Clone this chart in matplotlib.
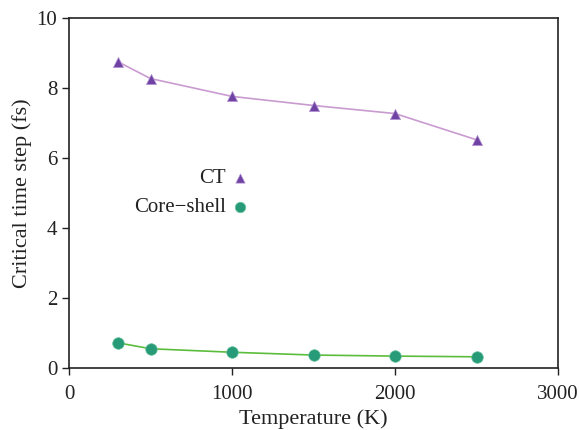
import matplotlib
matplotlib.use('Agg')
import matplotlib.pyplot as plt

# Datos
temperature = [300, 500, 1000, 1500, 2000, 2500]
ct_step = [8.75, 8.27, 7.76, 7.5, 7.27, 6.52]
cs_step = [0.72, 0.55, 0.45, 0.37, 0.34, 0.32]

plt.rcParams['font.family'] = ['Liberation Serif', 'DejaVu Serif']

fig = plt.figure(figsize=(5.79, 4.30), dpi=100)
ax = fig.add_axes([69/579, 1 - 368/430, (558-69)/579, (368-18)/430])

ax.plot(temperature, ct_step, color='#c99bd0', lw=1.2, zorder=2)
ax.plot(temperature, cs_step, color='#5cbd3c', lw=1.2, zorder=2)
ax.scatter(temperature, ct_step, marker='^', s=55, color='#6f42a3',
           edgecolors='#b79ad6', linewidths=0.5, zorder=3, label='CT')
ax.scatter(temperature, cs_step, marker='o', s=70, color='#279a77',
           edgecolors='#6cc49f', linewidths=0.5, zorder=3, label='Core\u2212shell')

ax.set_xlim(0, 3000)
ax.set_ylim(0, 10)
ax.set_xticks([0, 1000, 2000, 3000])
ax.set_yticks([0, 2, 4, 6, 8, 10])
ax.tick_params(direction='out', length=5, width=1, labelsize=15, colors='#222222',
               top=False, right=False)
ax.tick_params(axis='x', pad=7)
for s in ax.spines.values():
    s.set_linewidth(1.2)
    s.set_color('#222222')

ax.set_xlabel('Temperature (K)', fontsize=16, color='#222222', labelpad=4)
ax.set_ylabel('Critical time step (fs)', fontsize=16, color='#222222', labelpad=3)

leg = ax.legend(loc='center', bbox_to_anchor=(0.25, 0.50), markerfirst=False,
                frameon=False, fontsize=15, handletextpad=0.3, labelspacing=0.45,
                handlelength=0.8, markerscale=0.9)
for t in leg.get_texts():
    t.set_color('#222222')

fig.savefig('out.png', dpi=100)
